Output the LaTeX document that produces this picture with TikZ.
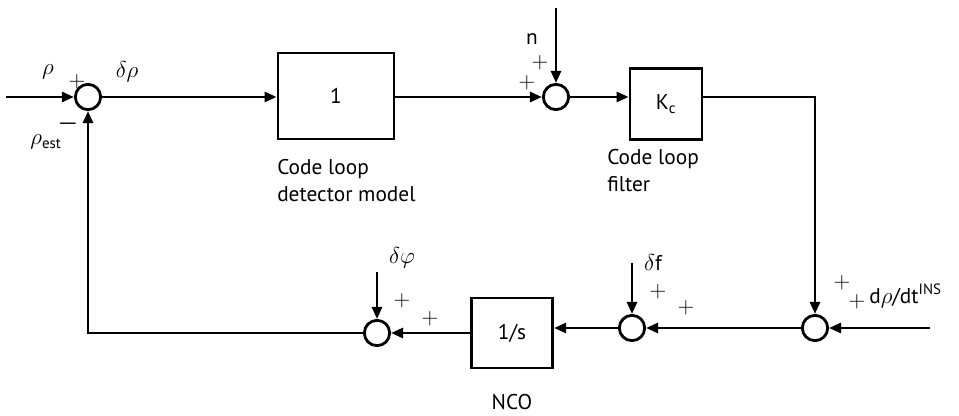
\documentclass[tikz,border=0pt]{standalone}
\usepackage{amsmath}
\usepackage{fontspec}
\setmainfont{PT Sans}
\usepackage{tikz}
\usetikzlibrary{arrows.meta,positioning,calc}

\begin{document}
\begin{tikzpicture}[
    x=0.75pt,y=-0.75pt,
    font=\fontsize{16}{20}\selectfont,
    blk/.style={draw,line width=2.1pt,inner sep=0pt},
    sumc/.style={draw,circle,line width=2.1pt,minimum size=19pt,inner sep=0pt},
    arr/.style={-{Triangle[length=9pt,width=7.5pt]},line width=2.1pt},
    lbl/.style={inner sep=0pt},
  ]
  \useasboundingbox (0,0) rectangle (959,416);

  % forward path
  \coordinate (in1) at (6,97);
  \node[sumc] (sum1) at (88,97) {};
  \node[blk,minimum width=87pt,minimum height=64.5pt] (det) at (336,96) {1};
  \node[sumc] (sum2) at (556,97) {};
  \coordinate (ntop) at (556,8);
  \node[blk,minimum width=54pt,minimum height=53pt] (kc) at (666,104) {K\textsubscript{c}};
  \coordinate (corner) at (815,97);

  % return path
  \node[sumc] (sum3) at (815,328) {};
  \coordinate (insin) at (930,328);
  \node[sumc] (sum4) at (632,328) {};
  \coordinate (dfin) at (632,263);
  \node[blk,minimum width=61pt,minimum height=52.5pt] (nco) at (512,333) {1/s};
  \node[sumc] (sum5) at (377,333) {};
  \coordinate (dphin) at (377,272);

  \draw[arr] (in1) -- (sum1);
  \draw[arr] (sum1.east) -- (sum1.east -| det.west);
  \draw[arr] (det.east |- sum2) -- (sum2);
  \draw[arr] (ntop) -- (sum2);
  \draw[arr] (sum2.east) -- (sum2.east -| kc.west);
  \draw[arr] (kc.east |- corner) -- (corner) -- (sum3);
  \draw[arr] (insin) -- (sum3);
  \draw[arr] (sum3) -- (sum4);
  \draw[arr] (dfin) -- (sum4);
  \draw[arr] (sum4.west) -- (sum4.west -| nco.east);
  \draw[arr] (nco) -- (sum5);
  \draw[arr] (dphin) -- (sum5);
  \draw[arr] (sum5.west) -| (sum1.south);

  % signs and signals
  \node[lbl] (rho) at (48,72) {$\rho$};
  \node[lbl] (p1) at (77,82) {$+$};
  \node[lbl] (drho) at (127,72) {$\delta\rho$};
  \node[lbl] (m1) at (68,124) {$\boldsymbol{-}$};
  \node[lbl] (rhoest) at (46,142) {$\rho_{\text{est}}$};
  \node[lbl] (nlbl) at (532,39) {n};
  \node[lbl] (p2) at (540,63) {$+$};
  \node[lbl] (p3) at (527,83) {$+$};
  \node[lbl,anchor=north west,align=left] (detlbl) at (277,159) {Code loop\\detector model};
  \node[lbl,anchor=north west,align=left] (kclbl) at (607,149) {Code loop\\filter};
  \node[lbl] (dphi) at (402,258) {$\delta\varphi$};
  \node[lbl] (p4) at (402,301) {$+$};
  \node[lbl] (p5) at (430,319) {$+$};
  \node[lbl] (ncolbl) at (512,402) {NCO};
  \node[lbl] (df) at (653,263) {$\delta$f};
  \node[lbl] (p6) at (658,292) {$+$};
  \node[lbl] (p7) at (686,308) {$+$};
  \node[lbl] (p8) at (842,283) {$+$};
  \node[lbl] (p9) at (857,302) {$+$};
  \node[lbl,anchor=west] (ins) at (869,296) {d$\rho$/dt\textsuperscript{INS}};
\end{tikzpicture}
\end{document}
